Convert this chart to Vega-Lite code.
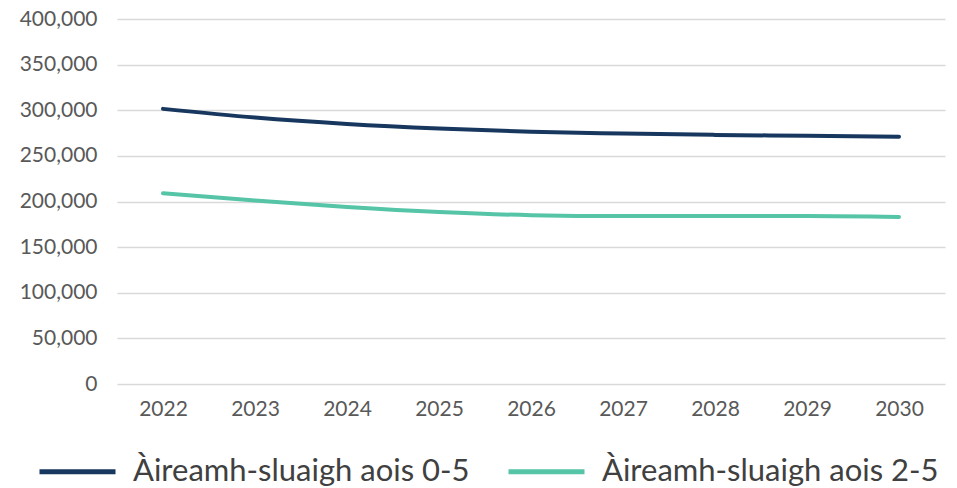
{
  "$schema": "https://vega.github.io/schema/vega-lite/v6.json",
  "width": 828,
  "height": 365,
  "autosize": {"type": "none"},
  "padding": {"left": 117, "top": 19, "right": 12, "bottom": 104},
  "config": {"view": {"stroke": null}, "font": "Lato"},
  "data": {"values": [
    {"year": "2022", "series": "Àireamh-sluaigh aois 0-5", "value": 301500},
    {"year": "2023", "series": "Àireamh-sluaigh aois 0-5", "value": 292000},
    {"year": "2024", "series": "Àireamh-sluaigh aois 0-5", "value": 285000},
    {"year": "2025", "series": "Àireamh-sluaigh aois 0-5", "value": 280000},
    {"year": "2026", "series": "Àireamh-sluaigh aois 0-5", "value": 276500},
    {"year": "2027", "series": "Àireamh-sluaigh aois 0-5", "value": 274500},
    {"year": "2028", "series": "Àireamh-sluaigh aois 0-5", "value": 273000},
    {"year": "2029", "series": "Àireamh-sluaigh aois 0-5", "value": 272000},
    {"year": "2030", "series": "Àireamh-sluaigh aois 0-5", "value": 271000},
    {"year": "2022", "series": "Àireamh-sluaigh aois 2-5", "value": 209000},
    {"year": "2023", "series": "Àireamh-sluaigh aois 2-5", "value": 201000},
    {"year": "2024", "series": "Àireamh-sluaigh aois 2-5", "value": 194000},
    {"year": "2025", "series": "Àireamh-sluaigh aois 2-5", "value": 188500},
    {"year": "2026", "series": "Àireamh-sluaigh aois 2-5", "value": 185000},
    {"year": "2027", "series": "Àireamh-sluaigh aois 2-5", "value": 184000},
    {"year": "2028", "series": "Àireamh-sluaigh aois 2-5", "value": 184000},
    {"year": "2029", "series": "Àireamh-sluaigh aois 2-5", "value": 184000},
    {"year": "2030", "series": "Àireamh-sluaigh aois 2-5", "value": 183000}
  ]},
  "mark": {"type": "line", "interpolate": "monotone", "strokeWidth": 4, "strokeCap": "round"},
  "encoding": {
    "x": {
      "field": "year", "type": "ordinal",
      "scale": {"type": "point", "padding": 0.5},
      "axis": {"title": null, "labelAngle": 0, "labelFontSize": 21, "labelColor": "#595959", "labelPadding": 14, "ticks": false, "domain": false, "grid": false}
    },
    "y": {
      "field": "value", "type": "quantitative",
      "scale": {"domain": [0, 400000], "nice": false},
      "axis": {"title": null, "values": [0, 50000, 100000, 150000, 200000, 250000, 300000, 350000, 400000], "format": ",d", "labelFontSize": 21, "labelColor": "#595959", "labelPadding": 20, "ticks": false, "domain": false, "gridColor": "#d9d9d9", "gridWidth": 1.5}
    },
    "color": {
      "field": "series", "type": "nominal",
      "scale": {"range": ["#17375e", "#55c4a7"]},
      "legend": {
        "title": null, "orient": "none", "direction": "horizontal", "columns": 2,
        "legendX": -80, "legendY": 412,
        "symbolType": "stroke", "symbolSize": 5776, "symbolStrokeWidth": 5,
        "labelFontSize": 31, "labelColor": "#404040", "labelOffset": 15,
        "columnPadding": 28, "labelLimit": 500
      }
    }
  }
}
